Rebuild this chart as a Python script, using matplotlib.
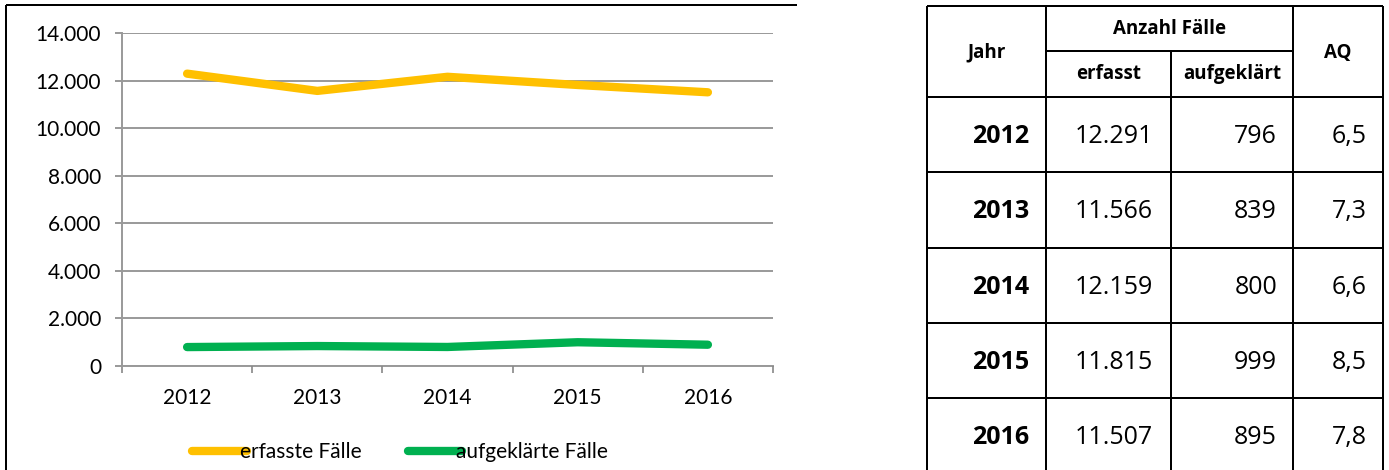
import matplotlib.pyplot as plt
from matplotlib.lines import Line2D
from matplotlib.ticker import FuncFormatter

# Data
jahre = ["2012", "2013", "2014", "2015", "2016"]
erfasst = [12291, 11566, 12159, 11815, 11507]
aufgeklaert = [796, 839, 800, 999, 895]
aq = ["6,5", "7,3", "6,6", "8,5", "7,8"]

W, H = 1389, 470
chart_font = ['Liberation Sans Narrow', 'Lato', 'DejaVu Sans']
table_font = ['Open Sans', 'DejaVu Sans']

fig = plt.figure(figsize=(W / 100, H / 100), dpi=100)


def px(x, y):
    # pixel coords (top-left origin) -> figure fraction
    return x / W, 1 - y / H


def fline(x0, y0, x1, y1, lw=2):
    a, b = px(x0, y0)
    c, d = px(x1, y1)
    fig.add_artist(Line2D([a, c], [b, d], color='black', lw=lw * 0.72,
                          solid_capstyle='butt'))


# Chart frame (cropped from a bigger page)
fline(6, 5, 797, 5)
fline(6, 5, 6, 470)

# Line chart
ax = fig.add_axes([122 / W, 104 / H, (773 - 122) / W, 333 / H])
x = list(range(len(jahre)))
ax.plot(x, erfasst, color='#FFC000', lw=6, solid_capstyle='round', label='erfasste Fälle')
ax.plot(x, aufgeklaert, color='#00B050', lw=6, solid_capstyle='round', label='aufgeklärte Fälle')

ax.set_xlim(-0.5, len(jahre) - 0.5)
ax.set_ylim(0, 14000)
ax.set_yticks(range(0, 14001, 2000))
ax.yaxis.set_major_formatter(FuncFormatter(lambda v, p: f"{int(v):,}".replace(",", ".")))
ax.set_xticks([i - 0.5 for i in range(len(jahre) + 1)])
ax.set_xticklabels([])
ax.set_xticks(x, minor=True)
ax.set_xticklabels(jahre, minor=True)
ax.tick_params(axis='x', which='major', length=5, width=1.2, color='#888888', direction='out')
ax.tick_params(axis='x', which='minor', length=0, pad=16, labelsize=15)
ax.tick_params(axis='y', length=5, width=1.2, color='#888888', pad=10, labelsize=15)
for lab in ax.get_xticklabels(which='minor') + ax.get_yticklabels():
    lab.set_family(chart_font)

ax.grid(axis='y', color='#999999', lw=1.4)
ax.set_axisbelow(True)
for s in ['top', 'right']:
    ax.spines[s].set_visible(False)
for s in ['left', 'bottom']:
    ax.spines[s].set_color('#999999')
    ax.spines[s].set_linewidth(1.4)
ax.spines['bottom'].set_zorder(0.5)

leg = fig.legend(loc='center', bbox_to_anchor=px(400, 452), ncol=2, frameon=False,
                 handlelength=2.6, handletextpad=-0.3, columnspacing=2.2,
                 prop={'family': chart_font, 'size': 15})
for h in leg.legend_handles:
    h.set_solid_capstyle('round')

# Table
tx = [927, 1046, 1171, 1293, 1383]
ty_top, ty_mid, ty_head = 6, 51, 97
row_h = 75.3

fline(tx[0], ty_top, tx[-1], ty_top)
fline(tx[1], ty_mid, tx[3], ty_mid)
for i in range(len(jahre)):
    yb = ty_head + i * row_h
    fline(tx[0], yb, tx[-1], yb)
for xv in tx:
    if xv == tx[2]:
        fline(xv, ty_mid, xv, 470)
    else:
        fline(xv, ty_top, xv, 470)


def ftext(xp, yp, s, ha='center', bold=False, size=17):
    a, b = px(xp, yp)
    fig.text(a, b, s, ha=ha, va='center', family=table_font,
             weight='bold' if bold else 'normal', fontsize=size)


ftext((tx[0] + tx[1]) / 2, 52, "Jahr", bold=True, size=13.5)
ftext((tx[1] + tx[3]) / 2, 29, "Anzahl Fälle", bold=True, size=13.5)
ftext((tx[1] + tx[2]) / 2, 74, "erfasst", bold=True, size=13.5)
ftext((tx[2] + tx[3]) / 2, 74, "aufgeklärt", bold=True, size=13.5)
ftext((tx[3] + tx[4]) / 2, 53, "AQ", bold=True, size=13.5)

for i, j in enumerate(jahre):
    yc = ty_head + i * row_h + row_h / 2 + 2
    ftext(tx[1] - 17, yc, j, ha='right', bold=True, size=18)
    ftext(tx[2] - 18, yc, f"{erfasst[i]:,}".replace(",", "."), ha='right', size=18)
    ftext(tx[3] - 16, yc, f"{aufgeklaert[i]}", ha='right', size=18)
    ftext(tx[4] - 16, yc, aq[i], ha='right', size=18)

fig.savefig('out.png', dpi=100)
